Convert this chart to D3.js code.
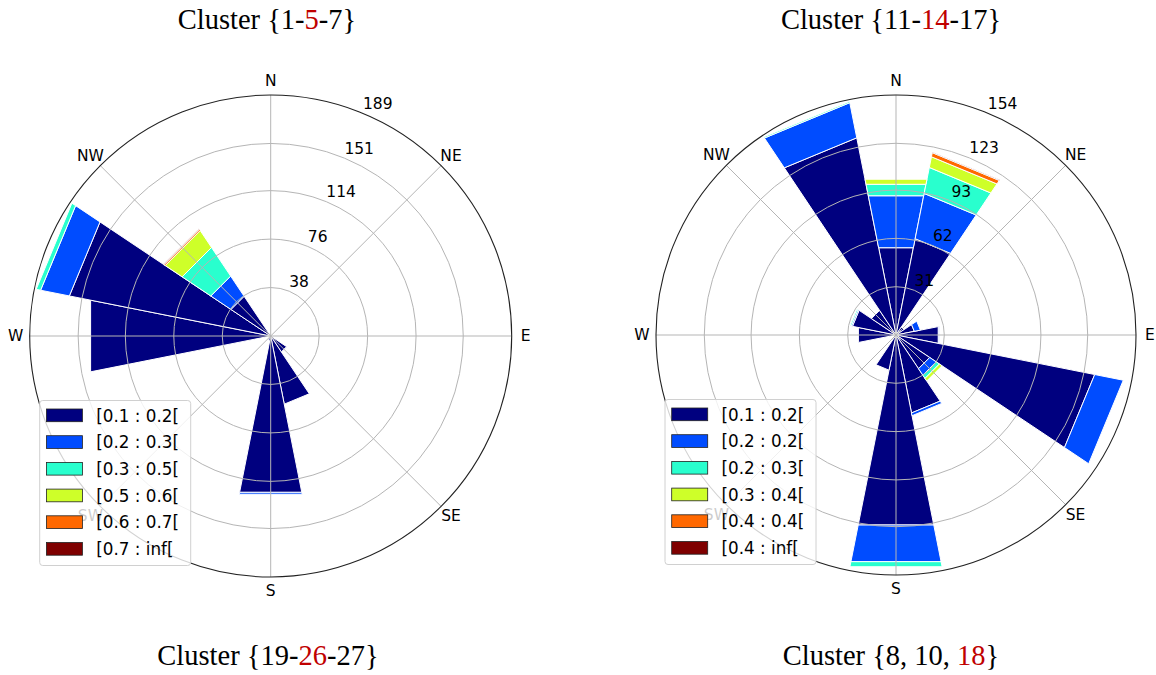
<!DOCTYPE html>
<html><head><meta charset="utf-8">
<script src="https://cdn.jsdelivr.net/npm/d3@7"></script>
<style>body{margin:0;background:#fff;overflow:hidden}</style>
</head><body>
<svg id="chart" width="1156" height="675"></svg>
<script>
// ---------- data ----------
const directions = ["N","NNE","NE","ENE","E","ESE","SE","SSE","S","SSW","SW","WSW","W","WNW","NW","NNW"];
const compassLabels = ["N","NE","E","SE","S","SW","W","NW"];
const binColors = ["#00007f","#004cff","#29ffce","#ceff29","#ff6800","#7f0000"];

const leftBins  = ["[0.1 : 0.2[","[0.2 : 0.3[","[0.3 : 0.5[","[0.5 : 0.6[","[0.6 : 0.7[","[0.7 : inf["];
const rightBins = ["[0.1 : 0.2[","[0.2 : 0.2[","[0.2 : 0.3[","[0.3 : 0.4[","[0.4 : 0.4[","[0.4 : inf["];

const leftTicks  = [38, 76, 114, 151, 189];
const rightTicks = [31, 62, 93, 123, 154];

// counts per speed bin (rows) for each of the 16 directions (columns, N..NNW)
const leftCounts = [
  [0, 0, 0, 0, 0, 0, 15, 54.5, 125, 4, 0, 0, 144, 161, 37.5, 0],
  [0, 0, 0, 0, 0, 0, 0, 0, 1.5, 0, 0, 0, 0, 23, 19, 0],
  [0, 0, 0, 0, 0, 0, 0, 0, 0, 0, 0, 0, 0, 3.5, 27, 0],
  [0, 0, 0, 0, 0, 0, 0, 0, 0, 0, 0, 0, 0, 0, 16, 0],
  [0, 0, 0, 0, 0, 0, 0, 0, 0, 0, 0, 0, 0, 0, 1.2, 0],
  [0, 0, 0, 0, 0, 0, 0, 0, 0, 0, 0, 0, 0, 0, 0.5, 0]
];
const rightCounts = [
  [57.1, 63, 6, 12, 27.7, 130, 26, 51, 124.3, 23, 0, 0, 24.6, 28.5, 19, 129],
  [34, 29.6, 0, 4, 0.6, 18.7, 5, 1.8, 24, 0, 0, 0, 0, 0.8, 0, 23],
  [7.5, 17, 0, 0, 0, 0, 2.5, 0, 3.3, 0, 0, 0, 0, 0.8, 0, 0.8],
  [3.3, 7, 0, 0, 0, 0, 2, 0, 0, 0, 0, 0, 0, 0, 0, 0],
  [0, 2.7, 0, 0, 0, 0, 0, 0, 0, 0, 0, 0, 0, 0, 0, 0],
  [0, 0.5, 0, 0, 0, 0, 0, 0, 0, 0, 0, 0, 0, 0, 0, 0]
];

const titleTopLeft     = ["Cluster {1-", "5", "-7}"];
const titleTopRight    = ["Cluster {11-", "14", "-17}"];
const titleBottomLeft  = ["Cluster {19-", "26", "-27}"];
const titleBottomRight = ["Cluster {8, 10, ", "18", "}"];

// ---------- drawing ----------
const svg = d3.select("#chart");
const SANS = "'DejaVu Sans', sans-serif";

function drawRose(cx, cy, R, counts, ticks, bins) {
  const g = svg.append("g");
  const keys = bins.map((_, i) => "b" + i);
  const rows = directions.map((d, j) => {
    const o = { dir: d };
    keys.forEach((k, i) => o[k] = counts[i][j]);
    return o;
  });
  const series = d3.stack().keys(keys)(rows);

  const ang = d3.scaleBand().domain(directions)
    .range([-Math.PI / 16, 2 * Math.PI - Math.PI / 16]).padding(0);
  const rad = d3.scaleLinear().domain([0, ticks[ticks.length - 1]]).range([0, R]);
  const pt = (a, r) => [cx + r * Math.sin(a), cy - r * Math.cos(a)];

  // bars
  series.forEach((s, i) => {
    g.append("g").selectAll("path")
      .data(s.filter(d => d[1] - d[0] > 0))
      .join("path")
      .attr("d", d => {
        const a0 = ang(d.data.dir), a1 = a0 + ang.bandwidth();
        const r0 = rad(d[0]), r1 = rad(d[1]);
        return "M" + [pt(a0, r0), pt(a1, r0), pt(a1, r1), pt(a0, r1)].map(p => p.join(",")).join("L") + "Z";
      })
      .attr("fill", binColors[i])
      .attr("stroke", "#ffffff")
      .attr("stroke-width", 1)
      .attr("stroke-linejoin", "miter");
  });

  // grid on top
  const grid = g.append("g");
  grid.selectAll("circle.ring").data(ticks.slice(0, -1)).join("circle")
    .attr("class", "ring").attr("cx", cx).attr("cy", cy).attr("r", d => rad(d))
    .attr("fill", "none").attr("stroke", "#b5b5b5").attr("stroke-width", 1);
  const spokes = d3.range(8).map(k => k * Math.PI / 4);
  grid.selectAll("line").data(spokes).join("line")
    .attr("x1", cx).attr("y1", cy)
    .attr("x2", a => pt(a, R)[0]).attr("y2", a => pt(a, R)[1])
    .attr("stroke", "#b5b5b5").attr("stroke-width", 1);
  grid.append("circle").attr("cx", cx).attr("cy", cy).attr("r", R)
    .attr("fill", "none").attr("stroke", "#222").attr("stroke-width", 1.1);

  // radial tick labels at 22.5°
  const la = Math.PI / 8;
  g.append("g").selectAll("text").data(ticks).join("text")
    .attr("x", d => pt(la, rad(d))[0])
    .attr("y", d => pt(la, rad(d))[1] - 4.5)
    .attr("font-family", SANS).attr("font-size", 15.5).attr("fill", "#000")
    .text(d => d);

  // compass labels
  g.append("g").selectAll("text").data(compassLabels).join("text")
    .attr("x", (d, k) => pt(k * Math.PI / 4, R + 14)[0])
    .attr("y", (d, k) => pt(k * Math.PI / 4, R + 14)[1])
    .attr("text-anchor", "middle").attr("dominant-baseline", "central")
    .attr("font-family", SANS).attr("font-size", 15.5).attr("fill", "#000")
    .text(d => d);

  // legend
  const lx = cx - 231, ly = cy + 64.5;
  const lg = g.append("g");
  lg.append("rect").attr("x", lx).attr("y", ly).attr("width", 151).attr("height", 165)
    .attr("rx", 3).attr("fill", "#fff").attr("fill-opacity", 0.8)
    .attr("stroke", "#d0d0d0").attr("stroke-width", 1);
  const items = lg.selectAll("g.item").data(bins).join("g").attr("class", "item")
    .attr("transform", (d, i) => `translate(${lx}, ${ly + 8.5 + i * 26.7})`);
  items.append("rect").attr("x", 6.7).attr("y", 0).attr("width", 36).attr("height", 12.7)
    .attr("fill", (d, i) => binColors[i]).attr("stroke", "#222").attr("stroke-width", 0.8);
  items.append("text").attr("x", 56.5).attr("y", 6.6)
    .attr("dominant-baseline", "central")
    .attr("font-family", SANS).attr("font-size", 16.8).attr("fill", "#000")
    .text(d => d);
}

function drawTitle(cx, baseline, parts) {
  const t = svg.append("text").attr("x", cx).attr("y", baseline)
    .attr("text-anchor", "middle")
    .attr("font-family", "'Liberation Serif', 'Times New Roman', serif")
    .attr("font-size", 28.5).attr("fill", "#000");
  parts.forEach((p, i) => t.append("tspan").attr("fill", i === 1 ? "#c00000" : "#000").text(p));
}

drawRose(270.7, 336, 241, leftCounts, leftTicks, leftBins);
drawRose(896, 335, 240, rightCounts, rightTicks, rightBins);

drawTitle(267, 28.5, titleTopLeft);
drawTitle(891, 29, titleTopRight);
drawTitle(268, 665, titleBottomLeft);
drawTitle(891, 665, titleBottomRight);
</script>
</body></html>
